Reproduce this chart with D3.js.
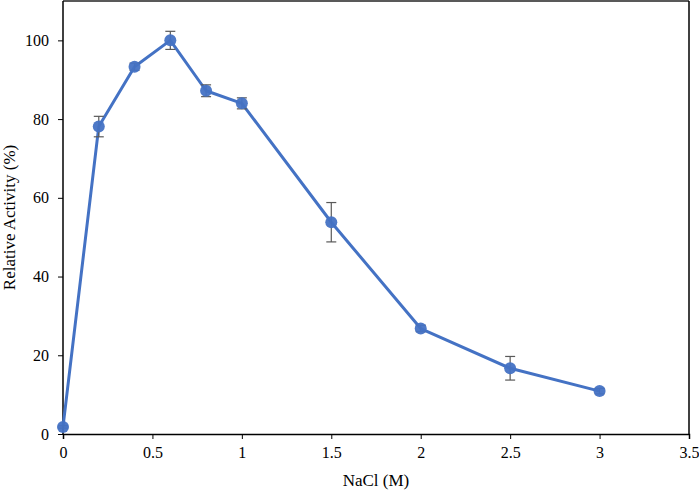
<!DOCTYPE html>
<html>
<head>
<meta charset="utf-8">
<script src="https://cdn.jsdelivr.net/npm/d3@7"></script>
<style>
  body { margin: 0; background: #fff; }
  svg text { font-family: "Liberation Serif", "Times New Roman", serif; fill: #000; }
</style>
</head>
<body>
<svg id="chart" width="699" height="491"></svg>
<script>
// NaCl concentration (M) vs relative activity (%)
const nacl = [0, 0.2, 0.4, 0.6, 0.8, 1, 1.5, 2, 2.5, 3];
const activity = [1.8, 78.1, 93.3, 100, 87.2, 84.0, 53.8, 26.8, 16.7, 10.9];
const errors = [0.3, 2.6, 0.9, 2.3, 1.5, 1.4, 5.0, 0.8, 3.0, 0.7];
const xTicks = [0, 0.5, 1, 1.5, 2, 2.5, 3, 3.5];
const yTicks = [0, 20, 40, 60, 80, 100];

const serif = "'Liberation Serif', 'Times New Roman', serif";
const margin = {top: 1, right: 10, bottom: 57, left: 63};
const width = 699, height = 491;

const svg = d3.select("#chart");

const x = d3.scaleLinear().domain([0, 3.5]).range([margin.left, width - margin.right]);
const y = d3.scaleLinear().domain([0, 110]).range([height - margin.bottom, margin.top]);

const data = nacl.map((d, i) => ({x: d, y: activity[i], e: errors[i]}));

// plot box: top and right edges
svg.append("line")
  .attr("x1", x(0)).attr("x2", x(3.5))
  .attr("y1", y(110)).attr("y2", y(110))
  .attr("stroke", "#595959").attr("stroke-width", 2);
svg.append("line")
  .attr("x1", x(3.5)).attr("x2", x(3.5))
  .attr("y1", y(110)).attr("y2", y(0))
  .attr("stroke", "#000").attr("stroke-width", 1.5);

// axes
const xAxis = svg.append("g")
  .attr("transform", `translate(0,${y(0)})`)
  .call(d3.axisBottom(x).tickValues(xTicks).tickFormat(d => String(d)).tickSizeOuter(0).tickSize(5).tickPadding(8));
const yAxis = svg.append("g")
  .attr("transform", `translate(${x(0)},0)`)
  .call(d3.axisLeft(y).tickValues(yTicks).tickSizeOuter(0).tickSize(5).tickPadding(9));

[xAxis, yAxis].forEach(g => {
  g.attr("font-family", serif).attr("font-size", 16);
  g.select(".domain").attr("stroke", "#000").attr("stroke-width", 1.5);
  g.selectAll(".tick line").attr("stroke", "#000").attr("stroke-width", 1);
  g.selectAll(".tick text").style("font-size", "16px").style("font-family", serif);
});
yAxis.select(".domain").attr("d", `M0,${y(110)}V${y(0)}`);

// axis titles
svg.append("text")
  .attr("x", (x(0) + x(3.5)) / 2)
  .attr("y", 486)
  .attr("text-anchor", "middle")
  .style("font-size", "17px")
  .style("font-family", serif)
  .text("NaCl (M)");
svg.append("text")
  .attr("transform", `translate(15,${(y(0) + y(110)) / 2}) rotate(-90)`)
  .attr("text-anchor", "middle")
  .style("font-size", "17px")
  .style("font-family", serif)
  .text("Relative Activity (%)");

// series line
const line = d3.line().x(d => x(d.x)).y(d => y(d.y));
svg.append("path")
  .datum(data)
  .attr("d", line)
  .attr("fill", "none")
  .attr("stroke", "#4472C4")
  .attr("stroke-width", 3)
  .attr("stroke-linejoin", "round");

// error bars
const eb = svg.append("g").attr("stroke", "#595959").attr("stroke-width", 1.2);
data.forEach(d => {
  eb.append("line").attr("x1", x(d.x)).attr("x2", x(d.x)).attr("y1", y(d.y - d.e)).attr("y2", y(d.y + d.e));
  eb.append("line").attr("x1", x(d.x) - 5).attr("x2", x(d.x) + 5).attr("y1", y(d.y - d.e)).attr("y2", y(d.y - d.e));
  eb.append("line").attr("x1", x(d.x) - 5).attr("x2", x(d.x) + 5).attr("y1", y(d.y + d.e)).attr("y2", y(d.y + d.e));
});

// markers
svg.append("g")
  .selectAll("circle")
  .data(data)
  .join("circle")
  .attr("cx", d => x(d.x))
  .attr("cy", d => y(d.y))
  .attr("r", 6)
  .attr("fill", "#4472C4")
  .attr("fill-opacity", 0.95);
</script>
</body>
</html>
